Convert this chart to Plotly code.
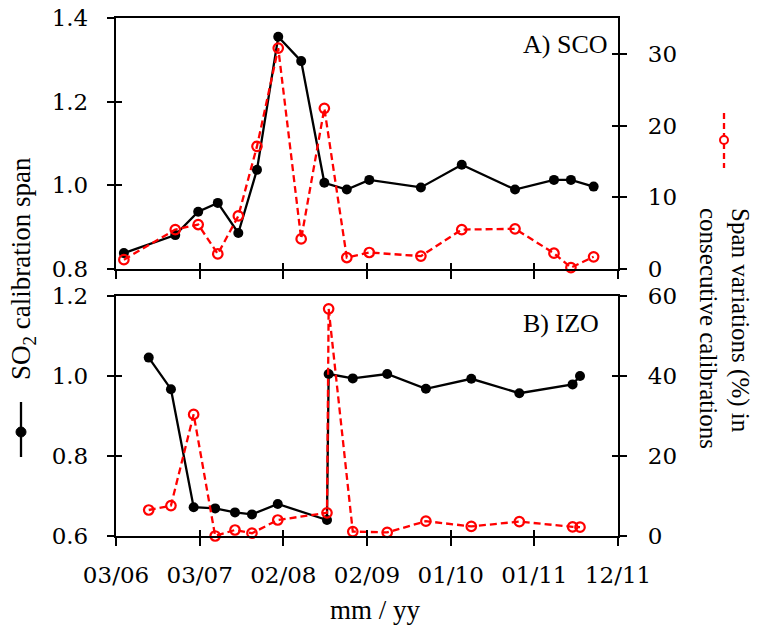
import pandas as pd
import plotly.graph_objects as go

# ---------------- data ----------------
sco_dates = ["2006-04-03", "2006-11-04", "2007-02-08", "2007-05-01", "2007-07-26",
             "2007-10-12", "2008-01-09", "2008-04-14", "2008-07-20", "2008-10-22",
             "2009-01-24", "2009-08-28", "2010-02-15", "2010-09-26", "2011-03-08",
             "2011-05-18", "2011-08-21"]
sco_span = [0.838, 0.881, 0.937, 0.958, 0.886, 1.037, 1.355, 1.297, 1.006, 0.990,
            1.013, 0.995, 1.049, 0.990, 1.013, 1.013, 0.997]
sco_var = [1.3, 5.5, 6.2, 2.1, 7.4, 17.1, 30.8, 4.2, 22.4, 1.6, 2.3, 1.8, 5.5, 5.6,
           2.2, 0.2, 1.7]

izo_dates = ["2006-07-16", "2006-10-17", "2007-01-20", "2007-04-20", "2007-07-12",
             "2007-09-21", "2008-01-07", "2008-07-31", "2008-08-07", "2008-11-16",
             "2009-04-09", "2009-09-18", "2010-03-27", "2010-10-14", "2011-05-25",
             "2011-06-25"]
izo_span = [1.046, 0.967, 0.672, 0.669, 0.659, 0.654, 0.680, 0.640, 1.005, 0.994,
            1.005, 0.968, 0.993, 0.957, 0.979, 1.000]
izo_var = [6.5, 7.6, 30.4, 0.0, 1.5, 0.7, 4.0, 5.8, 56.8, 1.1, 0.9, 3.7, 2.4, 3.6,
           2.3, 2.2]

x_tick_labels = ["03/06", "03/07", "02/08", "02/09", "01/10", "01/11", "12/11"]
x_start, x_end = "2006-03-01", "2011-12-01"

# ---------------- styling ----------------
W, H = 757, 625
TICKFONT = dict(family="DejaVu Serif", size=23, color="black")
TITLEFONT = dict(family="Liberation Serif", size=27, color="black")
BLACK = "black"
RED = "#ff0000"

tickvals = [t.strftime("%Y-%m-%d %H:%M:%S")
            for t in pd.date_range(x_start, x_end, periods=len(x_tick_labels))]

xl, xr = 116 / W, 618 / W
top_dom = [(H - 269) / H, (H - 18) / H]
bot_dom = [(H - 536) / H, (H - 296) / H]

fig = go.Figure()

def add_pair(xa, ya_left, ya_right, dates, span, var):
    fig.add_trace(go.Scatter(
        x=dates, y=span, xaxis=xa, yaxis=ya_left, mode="lines+markers",
        line=dict(color=BLACK, width=2.3),
        marker=dict(symbol="circle", size=10, color=BLACK),
        showlegend=False, cliponaxis=False))
    fig.add_trace(go.Scatter(
        x=dates, y=var, xaxis=xa, yaxis=ya_right, mode="lines+markers",
        line=dict(color=RED, width=2.3, dash="7px,4px"),
        marker=dict(symbol="circle-open", size=9.5, color=RED, line=dict(width=2.2)),
        showlegend=False, cliponaxis=False))

add_pair("x", "y", "y2", sco_dates, sco_span, sco_var)
add_pair("x2", "y3", "y4", izo_dates, izo_span, izo_var)

# dummy traces so that inside-tick overlay axes are drawn
for xa, ya in [("x3", "y"), ("x4", "y3"), ("x", "y5"), ("x", "y6"), ("x2", "y7"), ("x2", "y8")]:
    fig.add_trace(go.Scatter(x=[None], y=[None], xaxis=xa, yaxis=ya,
                             showlegend=False, hoverinfo="skip"))

common_x = dict(type="date", range=[x_start, x_end], tickmode="array",
                tickvals=tickvals, ticktext=x_tick_labels, showgrid=False,
                zeroline=False, tickfont=TICKFONT, tickcolor=BLACK, tickwidth=2,
                automargin=False)
line_kw = dict(showline=True, linecolor=BLACK, linewidth=2.3)

def yax(rng, dtick, fmt, side, **kw):
    d = dict(range=rng, tickmode="linear", tick0=rng[0], dtick=dtick, tickformat=fmt,
             showgrid=False, zeroline=False, tickfont=TICKFONT, tickcolor=BLACK,
             tickwidth=2, side=side, automargin=False)
    d.update(kw)
    return d

fig.update_layout(
    template="none",
    width=W, height=H, margin=dict(l=0, r=0, t=0, b=0, pad=0),
    paper_bgcolor="white", plot_bgcolor="white",
    showlegend=False,
    # top panel
    xaxis=dict(**common_x, **line_kw, domain=[xl, xr], anchor="y", ticks="outside",
               ticklen=8, showticklabels=False, mirror=True),
    yaxis=yax([0.8, 1.4], 0.2, ".1f", "left", domain=top_dom, anchor="x",
              ticks="outside", ticklen=7, ticklabelstandoff=14, **line_kw),
    yaxis2=yax([0, 35], 10, "d", "right", overlaying="y", anchor="x",
               ticks="outside", ticklen=7, ticklabelstandoff=16, **line_kw),
    # bottom panel
    xaxis2=dict(**common_x, **line_kw, domain=[xl, xr], anchor="y3", ticks="outside",
                ticklen=8, showticklabels=True, mirror=True, ticklabelstandoff=9),
    yaxis3=yax([0.6, 1.2], 0.2, ".1f", "left", domain=bot_dom, anchor="x2",
               ticks="outside", ticklen=7, ticklabelstandoff=14, **line_kw),
    yaxis4=yax([0, 60], 20, "d", "right", overlaying="y3", anchor="x2",
               ticks="outside", ticklen=7, ticklabelstandoff=16, **line_kw),
    # inside-tick overlays (cross ticks)
    xaxis3=dict(**common_x, overlaying="x", anchor="y", side="bottom", ticks="inside",
                ticklen=6, showticklabels=False, showline=False),
    xaxis4=dict(**common_x, overlaying="x2", anchor="y3", side="bottom", ticks="inside",
                ticklen=6, showticklabels=False, showline=False),
    yaxis5=yax([0.8, 1.4], 0.2, ".1f", "left", overlaying="y", anchor="x",
               ticks="inside", ticklen=6, showticklabels=False, showline=False),
    yaxis6=yax([0, 35], 10, "d", "right", overlaying="y", anchor="x",
               ticks="inside", ticklen=6, showticklabels=False, showline=False),
    yaxis7=yax([0.6, 1.2], 0.2, ".1f", "left", overlaying="y3", anchor="x2",
               ticks="inside", ticklen=6, showticklabels=False, showline=False),
    yaxis8=yax([0, 60], 20, "d", "right", overlaying="y3", anchor="x2",
               ticks="inside", ticklen=6, showticklabels=False, showline=False),
)

# ---------------- text ----------------
ann = [
    dict(text="A) SCO", x=521 / W, y=1 - 44 / H, xanchor="left", yanchor="middle",
         font=dict(family="Liberation Serif", size=26, color="black")),
    dict(text="B) IZO", x=521 / W, y=1 - 323 / H, xanchor="left", yanchor="middle",
         font=dict(family="Liberation Serif", size=26, color="black")),
    dict(text="mm / yy", x=375 / W, y=1 - 610 / H, xanchor="center", yanchor="middle",
         font=TITLEFONT),
    dict(text="SO<sub>2</sub> calibration span", textangle=-90, x=23 / W, y=1 - 269 / H,
         xanchor="center", yanchor="middle", font=TITLEFONT),
    dict(text="Span variations (%) in<br>consecutive calibrations", textangle=90,
         x=724 / W, y=1 - 328 / H, xanchor="center", yanchor="middle", align="left",
         font=dict(family="Liberation Serif", size=25, color="black")),
]
for a in ann:
    fig.add_annotation(xref="paper", yref="paper", showarrow=False, **a)

# legend glyphs next to the axis titles
fig.add_shape(type="line", xref="paper", yref="paper", x0=21 / W, x1=21 / W,
              y0=1 - 402 / H, y1=1 - 457 / H, line=dict(color=BLACK, width=2.3))
fig.add_shape(type="circle", xref="paper", yref="paper", xsizemode="pixel",
              ysizemode="pixel", xanchor=21 / W, yanchor=1 - 432 / H,
              x0=-5, x1=5, y0=-5, y1=5, fillcolor=BLACK, line=dict(color=BLACK, width=1))
fig.add_shape(type="line", xref="paper", yref="paper", x0=724 / W, x1=724 / W,
              y0=1 - 113 / H, y1=1 - 168 / H, line=dict(color=RED, width=2.3, dash="6px,4px"))
fig.add_shape(type="circle", xref="paper", yref="paper", xsizemode="pixel",
              ysizemode="pixel", xanchor=724 / W, yanchor=1 - 140 / H,
              x0=-4, x1=4, y0=-4, y1=4, fillcolor="white", line=dict(color=RED, width=2))

fig.write_html("out.html")
